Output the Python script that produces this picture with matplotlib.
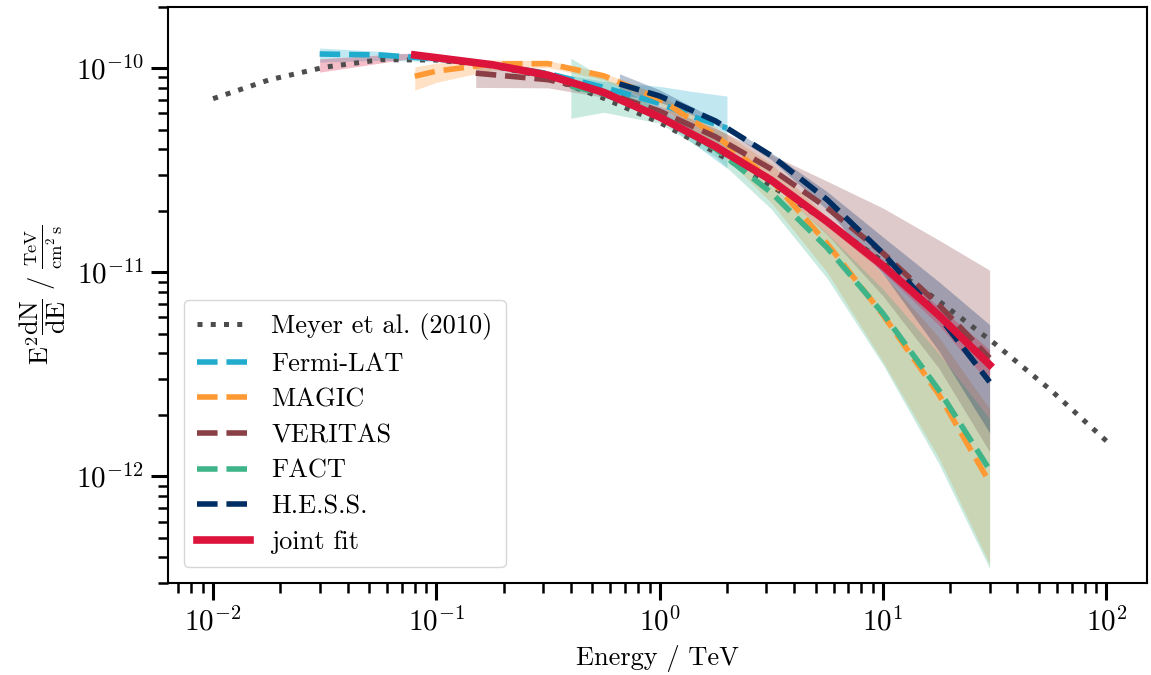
import numpy as np
import matplotlib
matplotlib.use('Agg')
import matplotlib.pyplot as plt

plt.rcParams['font.family'] = 'serif'
plt.rcParams['font.serif'] = ['cmr10']
plt.rcParams['mathtext.fontset'] = 'cm'
plt.rcParams['axes.formatter.use_mathtext'] = True
plt.rcParams['font.size'] = 19

# energies in TeV, E^2 dN/dE in units of 1e-11 TeV cm^-2 s^-1
meyer_e = [0.01, 0.0178, 0.0316, 0.0562, 0.1, 0.178, 0.316, 0.562, 1.0,
           1.78, 3.16, 5.62, 10, 17.8, 31.6, 56.2, 100]
meyer_f = [7.08, 8.75, 10.1, 10.99, 10.94, 10.23, 9.0, 7.11, 5.41,
           3.86, 2.65, 1.76, 1.127, 0.721, 0.447, 0.265, 0.149]

fermi_e = [0.03, 0.056, 0.1, 0.178, 0.316, 0.562, 1.0, 1.41, 2.0]
fermi_f = [11.72, 11.59, 11.09, 10.40, 9.40, 8.04, 6.71, 5.78, 5.08]
fermi_hi = [12.53, 12.08, 11.35, 10.54, 9.59, 8.61, 8.13, 7.67, 7.29]
fermi_lo = [10.69, 10.91, 10.76, 10.18, 9.12, 7.59, 5.62, 4.27, 3.23]

magic_e = [0.08, 0.1, 0.178, 0.316, 0.562, 1.0, 1.78, 3.16, 5.62, 10, 17.8, 30]
magic_f = [9.12, 9.66, 10.47, 10.52, 9.16, 7.05, 4.68, 2.83, 1.38, 0.617, 0.251, 0.0933]
magic_hi = [10.14, 10.59, 10.96, 10.89, 9.48, 7.38, 5.13, 3.40, 1.862, 0.977, 0.479, 0.214]
magic_lo = [7.80, 8.51, 9.77, 10.05, 8.75, 6.58, 4.07, 2.19, 1.0, 0.363, 0.123, 0.0372]

veritas_e = [0.15, 0.316, 0.562, 1.0, 1.78, 3.16, 5.62, 10, 17.8, 30]
veritas_f = [9.44, 8.77, 7.62, 6.15, 4.60, 3.20, 2.065, 1.239, 0.690, 0.380]
veritas_hi = [10.23, 9.18, 7.98, 6.52, 5.05, 3.76, 2.79, 2.06, 1.435, 1.023]
veritas_lo = [8.04, 8.0, 7.19, 5.81, 4.20, 2.72, 1.53, 0.764, 0.338, 0.132]

fact_e = [0.4, 0.562, 1.0, 1.78, 3.16, 5.62, 10, 17.8, 30]
fact_f = [8.17, 7.46, 5.82, 4.02, 2.45, 1.318, 0.627, 0.264, 0.1076]
fact_hi = [11.17, 8.97, 6.24, 4.26, 2.69, 1.549, 0.826, 0.399, 0.1914]
fact_lo = [5.68, 6.07, 5.37, 3.66, 2.04, 0.933, 0.352, 0.1151, 0.0354]

hess_e = [0.66, 1.0, 1.78, 3.16, 5.62, 10, 17.8, 30]
hess_f = [8.36, 7.29, 5.50, 3.72, 2.265, 1.236, 0.607, 0.290]
hess_hi = [9.38, 7.82, 5.62, 3.85, 2.48, 1.486, 0.897, 0.553]
hess_lo = [7.45, 6.81, 5.31, 3.56, 2.02, 0.982, 0.410, 0.1633]

joint_e = [0.08, 0.178, 0.316, 0.562, 1.0, 1.78, 3.16, 5.62, 10, 17.8, 30]
joint_f = [11.59, 10.38, 9.23, 7.59, 5.75, 4.12, 2.82, 1.77, 1.074, 0.614, 0.352]
joint_band_e = [0.03, 0.08, 0.178, 0.316, 0.562, 1.0, 1.78, 3.16, 5.62, 10, 17.8, 30]
joint_hi = [11.09, 11.89, 10.59, 9.40, 7.73, 5.89, 4.22, 2.92, 1.862, 1.148, 0.676, 0.417]
joint_lo = [9.55, 11.22, 10.16, 9.06, 7.45, 5.62, 4.03, 2.72, 1.679, 1.0, 0.550, 0.285]

unit = 1e-11

datasets = [
    ("Fermi-LAT", "#21ABCD", fermi_e, fermi_f, fermi_lo, fermi_hi),
    ("MAGIC", "#FF9933", magic_e, magic_f, magic_lo, magic_hi),
    ("VERITAS", "#893F45", veritas_e, veritas_f, veritas_lo, veritas_hi),
    ("FACT", "#3EB489", fact_e, fact_f, fact_lo, fact_hi),
    ("H.E.S.S.", "#002E63", hess_e, hess_f, hess_lo, hess_hi),
]

fig = plt.figure(figsize=(11.51, 6.75), dpi=100)
ax = fig.add_axes([0.1462, 0.1363, 0.8503, 0.8539])

ax.plot(meyer_e, np.array(meyer_f) * unit, ls=':', lw=3.6, color='0.3',
        label='Meyer et al. (2010)', zorder=3)

for name, color, e, f, lo, hi in datasets:
    ax.fill_between(e, np.array(lo) * unit, np.array(hi) * unit,
                    color=color, alpha=0.28, lw=0, zorder=1)
    ax.plot(e, np.array(f) * unit, ls='--', lw=4, color=color, label=name, zorder=3)

ax.fill_between(joint_band_e, np.array(joint_lo) * unit, np.array(joint_hi) * unit,
                color='crimson', alpha=0.28, lw=0, zorder=1)
ax.plot(joint_e, np.array(joint_f) * unit, ls='-', lw=5.5, color='crimson',
        label='joint fit', zorder=4)

ax.set_xscale('log')
ax.set_yscale('log')
ax.set_xlim(6.3e-3, 152)
ax.set_ylim(3e-13, 2e-10)
ax.set_xticks([1e-2, 1e-1, 1e0, 1e1, 1e2])
ax.set_yticks([1e-12, 1e-11, 1e-10])

ax.set_xlabel('Energy / TeV', labelpad=6)
ax.set_ylabel(r'$\mathrm{E}^2\dfrac{\mathrm{dN}}{\mathrm{dE}}\ /\ \frac{\mathrm{TeV}}{\mathrm{cm}^2\,\mathrm{s}}$',
              labelpad=6)

for s in ax.spines.values():
    s.set_linewidth(1.5)
ax.tick_params(which='major', length=12.5, width=2.2, direction='out', labelsize=21, pad=5)
ax.tick_params(which='minor', length=7.5, width=1.8, direction='out')

ax.legend(loc='lower left', handlelength=2.0, fontsize=19, labelspacing=0.45,
          borderaxespad=0.6, borderpad=0.5, edgecolor='0.8')

fig.savefig('out.png', dpi=100)
